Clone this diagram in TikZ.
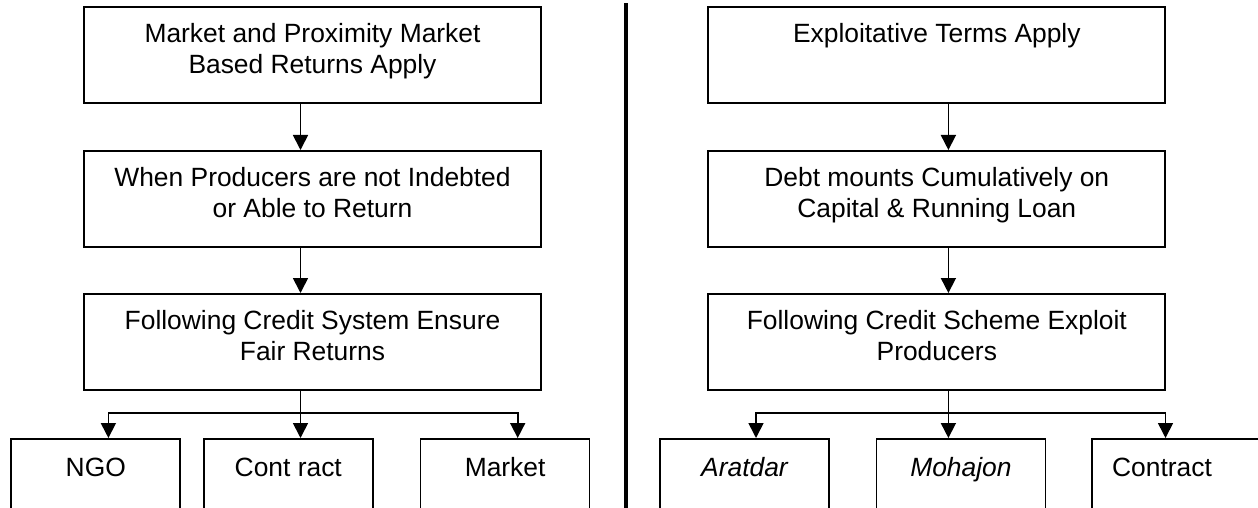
\documentclass[tikz,border=0pt]{standalone}
\usepackage{fontspec}
\setmainfont{Liberation Sans}
\usetikzlibrary{arrows.meta}

\begin{document}
\begin{tikzpicture}[x=0.5pt, y=-0.5pt,
  every node/.style={font=\fontsize{13.2}{15.5}\selectfont},
  stepbox/.style={draw, line width=0.85pt, anchor=north, minimum width=228.5pt,
    inner ysep=0pt, text height=33.5pt, text depth=14.5pt, align=center},
  leafbox/.style={draw, line width=0.85pt, anchor=north, minimum width=84.5pt,
    inner ysep=0pt, text height=19pt, text depth=45pt},
  arr/.style={line width=0.85pt, -{Triangle[length=7.5pt,width=7.5pt]}}]

\useasboundingbox (0,0) rectangle (1258,508);
\clip (0,0) rectangle (1258,508);

\draw[line width=2.3pt] (626,3.5) -- (626,530);

\node[stepbox] (L1) at (312.5,6) {Market and Proximity Market\\Based Returns Apply};
\node[stepbox] (L2) at (312.5,150) {When Producers are not Indebted\\or Able to Return};
\node[stepbox] (L3) at (312.5,293) {Following Credit System Ensure\\Fair Returns};

\node[leafbox] (ngo) at (95.8,438) {NGO};
\node[leafbox] (contL) at (288.3,438) {Cont ract};
\node[leafbox] (market) at (505.1,438) {Market};

\node[stepbox] (R1) at (936.8,6) {Exploitative Terms Apply\\ \mbox{}};
\node[stepbox] (R2) at (936.8,150) {Debt mounts Cumulatively on\\Capital \& Running Loan};
\node[stepbox] (R3) at (936.8,293) {Following Credit Scheme Exploit\\Producers};

\node[leafbox] (aratdar) at (744.5,438) {\itshape Aratdar};
\node[leafbox] (mohajon) at (960.9,438) {\itshape Mohajon};
\node[leafbox] (contR) at (1176.5,438) {Contract\kern14.5pt};

\coordinate (axL) at (300.5,413);
\coordinate (axR) at (948.4,413);

\draw[arr] (L1.south -| axL) -- (L2.north -| axL);
\draw[arr] (L2.south -| axL) -- (L3.north -| axL);
\draw[arr] (L3.south -| axL) -- (contL.north -| axL);
\draw[arr] (axL) -| ([xshift=6.3pt]ngo.north);
\draw[arr] (axL) -| ([xshift=6.3pt]market.north);

\draw[arr] (R1.south -| axR) -- (R2.north -| axR);
\draw[arr] (R2.south -| axR) -- (R3.north -| axR);
\draw[arr] (R3.south -| axR) -- (mohajon.north -| axR);
\draw[arr] (axR) -| ([xshift=5.75pt]aratdar.north);
\draw[arr] (axR) -| ([xshift=-5.5pt]contR.north);
\end{tikzpicture}
\end{document}
